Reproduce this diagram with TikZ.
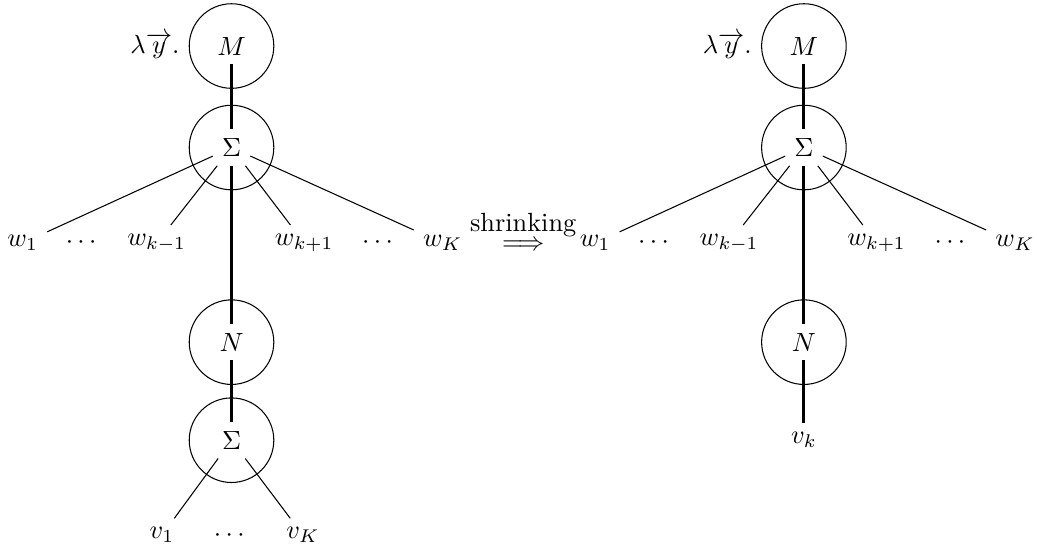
\documentclass[tikz,border=0pt]{standalone}
\usepackage{amsmath}
\usepackage{tikz}
\usetikzlibrary{positioning}
\tikzstyle{ball} = [circle, draw, minimum size=1.13cm]
\tikzstyle{spine} = [line width=1.1pt]

\begin{document}
\begin{tikzpicture}[node distance=1.3cm, on grid]
\useasboundingbox (0,0) rectangle (13.854,-7.335);

% before shrinking
\node (m)   at (3.093,-0.615) {$M$};
\node (s)   [below=1.356cm of m] {$\Sigma$};
\node (w1)  [below left=1.276cm and 2.79cm of s] {$w_1$};
\node (d1)  [below left=1.276cm and 1.98cm of s] {$\cdots$};
\node (wkm) [below left=1.276cm and 1.0cm of s] {$w_{k-1}$};
\node (wkp) [below right=1.276cm and 0.97cm of s] {$w_{k+1}$};
\node (d2)  [below right=1.276cm and 1.98cm of s] {$\cdots$};
\node (wK)  [below right=1.276cm and 2.82cm of s] {$w_K$};
\node (n)   [below=2.6cm of s] {$N$};
\node (s2)  [below=1.31cm of n] {$\Sigma$};
\node (v1)  [below left=1.27cm and 0.93cm of s2] {$v_1$};
\node (d3)  [below=1.27cm of s2] {$\cdots$};
\node (vK)  [below right=1.27cm and 0.955cm of s2] {$v_K$};

\node (cm)  [ball] at (m) {};
\node (cs)  [ball] at (s) {};
\node (cn)  [ball] at (n) {};
\node (cs2) [ball] at (s2) {};
\node (lam) [anchor=east] at (cm.west) {$\lambda\overrightarrow{y}.$};

\draw[spine] (m) -- (s);
\draw[spine] (s) -- (n);
\draw[spine] (n) -- (s2);
\draw (s) -- (w1);
\draw (s) -- (wkm);
\draw (s) -- (wkp);
\draw (s) -- (wK);
\draw (s2) -- (v1);
\draw (s2) -- (vK);

% the step
\node (arr) at (6.99,-3.287) {$\Longrightarrow$};
\node (shr) [above=0.28cm of arr] {shrinking};

% after shrinking
\node (rm)   at (10.74,-0.615) {$M$};
\node (rs)   [below=1.356cm of rm] {$\Sigma$};
\node (rw1)  [below left=1.276cm and 2.79cm of rs] {$w_1$};
\node (rd1)  [below left=1.276cm and 1.98cm of rs] {$\cdots$};
\node (rwkm) [below left=1.276cm and 1.0cm of rs] {$w_{k-1}$};
\node (rwkp) [below right=1.276cm and 0.97cm of rs] {$w_{k+1}$};
\node (rd2)  [below right=1.276cm and 1.98cm of rs] {$\cdots$};
\node (rwK)  [below right=1.276cm and 2.82cm of rs] {$w_K$};
\node (rn)   [below=2.6cm of rs] {$N$};
\node (rvk)  [below=1.31cm of rn] {$v_k$};

\node (rcm)  [ball] at (rm) {};
\node (rcs)  [ball] at (rs) {};
\node (rcn)  [ball] at (rn) {};
\node (rlam) [anchor=east] at (rcm.west) {$\lambda\overrightarrow{y}.$};

\draw[spine] (rm) -- (rs);
\draw[spine] (rs) -- (rn);
\draw[spine] (rn) -- (rvk);
\draw (rs) -- (rw1);
\draw (rs) -- (rwkm);
\draw (rs) -- (rwkp);
\draw (rs) -- (rwK);

\end{tikzpicture}
\end{document}
